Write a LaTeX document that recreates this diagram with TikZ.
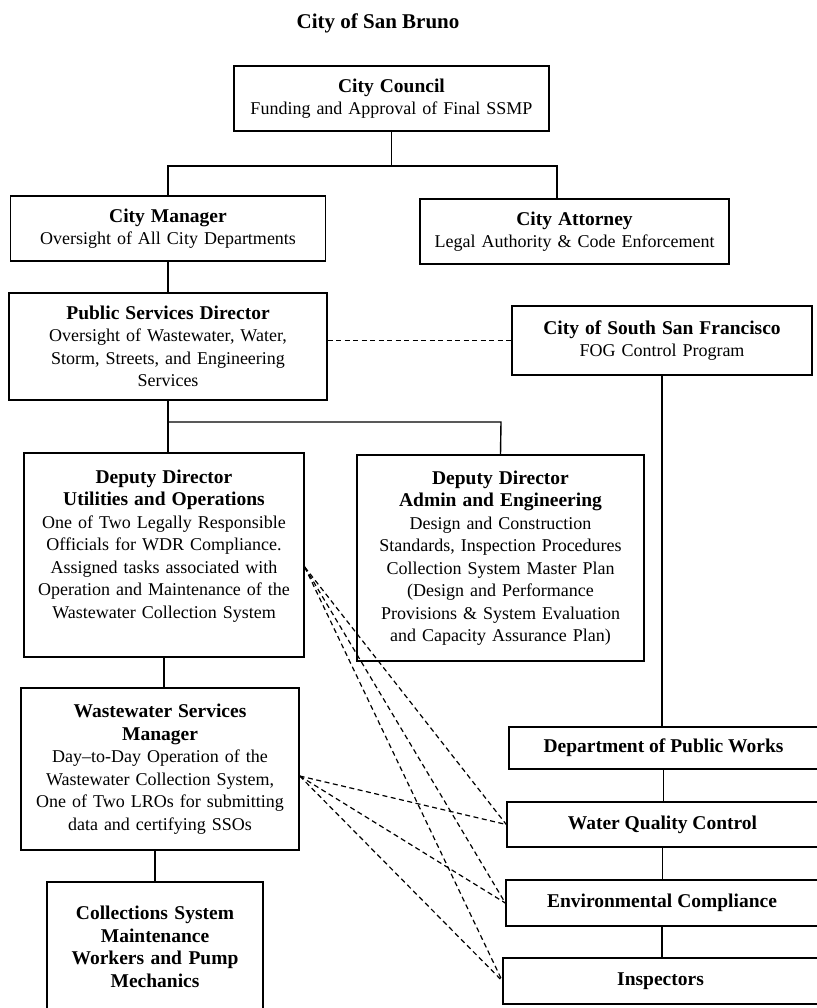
\documentclass[tikz,border=0pt]{standalone}
\usepackage{fontspec}
\setmainfont{Liberation Serif}
\usepackage{tikz}
\newcommand{\hd}{\bfseries\fontsize{19.5}{22.5}\selectfont}

\begin{document}
\begin{tikzpicture}[x=1pt, y=-1pt, line width=1.4pt,
  box/.style={draw, align=center, inner sep=4pt, font=\fontsize{18}{22.5}\selectfont},
  link/.style={dash pattern=on 5pt off 3.5pt, line width=1.2pt}]
\useasboundingbox (0,0) rectangle (816,1008);
\node[font=\bfseries\fontsize{21}{25}\selectfont] (title) at (378,23) {City of San Bruno};
\node[box, minimum width=315pt, minimum height=65pt, text width=305pt] (council) at (391.5,98.5)
  {{\hd City Council}\\ Funding and Approval of Final SSMP};
\node[box, minimum width=315pt, minimum height=65pt, text width=305pt] (manager) at (168,228.5)
  {{\hd City Manager}\\ Oversight of All City Departments};
\node[box, minimum width=309pt, minimum height=65pt, text width=299pt] (attorney) at (574.5,231.5)
  {{\hd City Attorney}\\ Legal Authority \& Code Enforcement};
\node[box, minimum width=318pt, minimum height=107pt, text width=308pt] (psd) at (168,346.5)
  {{\hd Public Services Director}\\ Oversight of Wastewater, Water,\\ Storm, Streets, and Engineering\\ Services};
\node[box, minimum width=300pt, minimum height=69pt, text width=290pt] (cssf) at (662,340.5)
  {{\hd City of South San Francisco}\\ FOG Control Program};
\node[box, minimum width=280pt, minimum height=204pt, text width=270pt] (ddu) at (164,555)
  {{\hd Deputy Director}\\ {\hd Utilities and Operations}\\ One of Two Legally Responsible\\
   Officials for WDR Compliance.\\ Assigned tasks associated with\\ Operation and Maintenance of the\\
   Wastewater Collection System\\ ~};
\node[box, minimum width=287pt, minimum height=206pt, text width=277pt] (dda) at (500.5,558)
  {{\hd Deputy Director}\\ {\hd Admin and Engineering}\\ Design and Construction\\
   Standards, Inspection Procedures\\ Collection System Master Plan\\ (Design and Performance\\
   Provisions \& System Evaluation\\ and Capacity Assurance Plan)};
\node[box, minimum width=278pt, minimum height=162pt, text width=268pt] (wsm) at (160,769)
  {{\hd Wastewater Services}\\ {\hd Manager}\\ Day--to-Day Operation of the\\
   Wastewater Collection System,\\ One of Two LROs for submitting\\ data and certifying SSOs};
\node[box, minimum width=216pt, minimum height=130pt, text width=206pt, font=\hd] (csm) at (155,947)
  {Collections System\\ Maintenance\\ Workers and Pump\\ Mechanics};
\node[box, minimum width=309pt, minimum height=42pt, font=\hd] (dpw) at (663.5,748) {Department of Public Works};
\node[box, minimum width=311pt, minimum height=45pt, font=\hd] (wqc) at (662.5,824.5) {Water Quality Control};
\node[box, minimum width=312pt, minimum height=46pt, font=\hd] (ec) at (662,903) {Environmental Compliance};
\node[box, minimum width=315pt, minimum height=46pt, font=\hd] (insp) at (660.5,981) {Inspectors};
\coordinate (j1) at (168,166);
\coordinate (j2) at (557,166);
\coordinate (j3) at (501,422);
\draw (council.south) -- (council.south |- j1);
\draw (j1 |- manager.north) -- (j1) -- (j2) -- (j2 |- attorney.north);
\draw (manager.south) -- (psd.north);
\draw (psd.south) -- (psd.south |- ddu.north);
\draw (psd.south |- j3) -- (j3) -- (dda.north);
\draw (ddu.south) -- (ddu.south |- wsm.north);
\draw (wsm.south -| csm.north) -- (csm.north);
\draw (cssf.south) -- (cssf.south |- dpw.north);
\draw (dpw.south) -- (dpw.south |- wqc.north);
\draw (wqc.south) -- (wqc.south |- ec.north);
\draw (ec.south) -- (ec.south |- insp.north);
\draw[link] (cssf.west -| psd.east) -- (cssf.west);
\foreach \t in {wqc,ec,insp} {
  \draw[link] ([yshift=-12pt]ddu.east) -- (\t.west);
  \draw[link] ([yshift=-7pt]wsm.east) -- (\t.west);
}
\end{tikzpicture}
\end{document}
